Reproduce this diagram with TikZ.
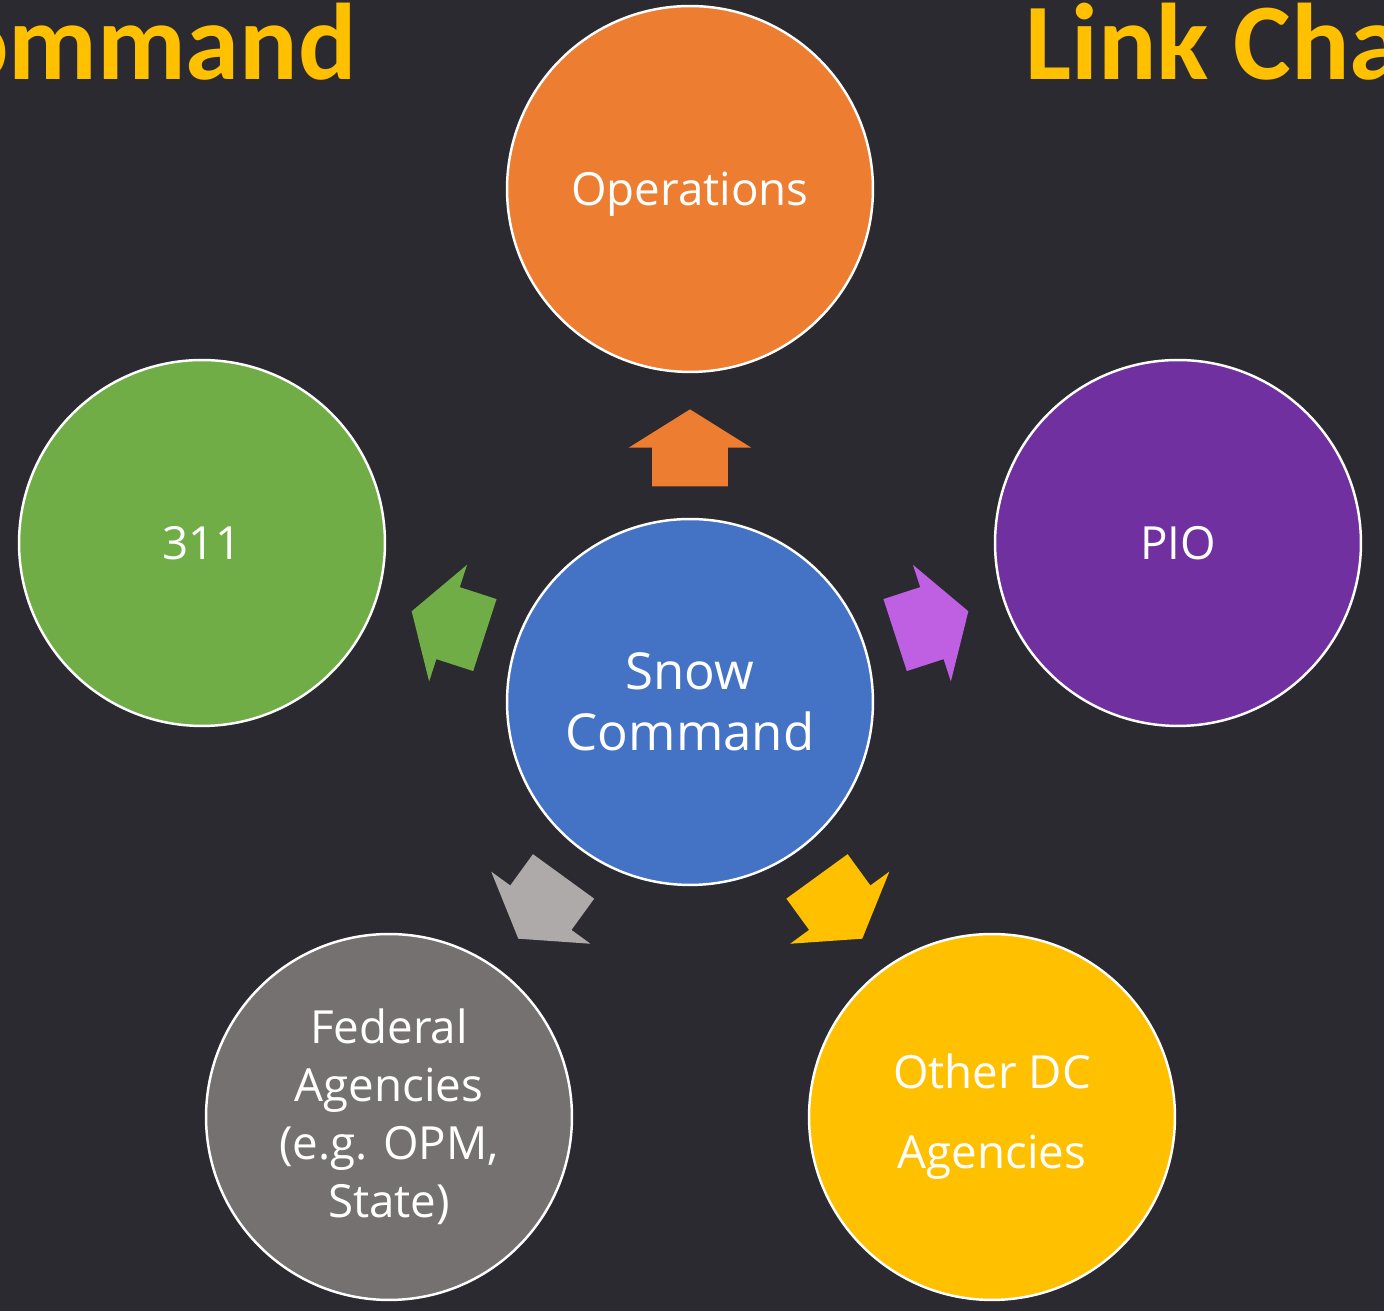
\documentclass[tikz,border=0pt]{standalone}
\usepackage{fontspec}
\setmainfont{Open Sans}
\newfontfamily\titlefont{Carlito}
\usetikzlibrary{shapes.arrows,calc}

\definecolor{slate}{HTML}{2B2A30}
\definecolor{gold}{HTML}{FFC000}
\definecolor{hubblue}{HTML}{4472C4}
\definecolor{opsorange}{HTML}{ED7D31}
\definecolor{piopurple}{HTML}{7030A0}
\definecolor{piolilac}{HTML}{BF60E2}
\definecolor{callgreen}{HTML}{70AD47}
\definecolor{fedgrey}{HTML}{767171}
\definecolor{fedsilver}{HTML}{AEAAAA}

\tikzset{
  bubble/.style={circle,draw=white,line width=1.4pt,minimum size=7.32cm,inner sep=0pt,
    text=white,align=center,font=\fontsize{26}{33}\selectfont},
  linkarrow/.style={single arrow,draw=none,inner xsep=0pt,inner ysep=0.75cm,minimum height=1.54cm,
    single arrow head extend=0.47cm,single arrow tip angle=116,anchor=tip},
  headline/.style={inner sep=0pt,text=gold,font=\titlefont\bfseries\fontsize{62}{70}\selectfont}
}

\begin{document}
\begin{tikzpicture}[x=0.02cm,y=0.02cm]
\useasboundingbox (0,0) rectangle (1384,1311);
\clip (0,0) rectangle (1384,1311);
\fill[slate] (0,0) rectangle (1384,1311);

% titles, cut by the page edge
\node[headline,anchor=base east] (lefttitle) at (357,1231) {ommand};
\node[headline,anchor=base west] (righttitle) at (1025,1231) {Link Cha};

% hub and the five links
\node[bubble,fill=hubblue,font=\fontsize{29}{35}\selectfont] (hub) at (690,609) {Snow\\Command};
\node[bubble,fill=opsorange,text depth=0pt] (ops) at (690,1122) {Operations};
\node[bubble,fill=piopurple] (pio) at (1178,768) {PIO};
\node[bubble,fill=callgreen] (call) at (202,768) {311};
\node[bubble,fill=fedgrey,font=\fontsize{26}{33}\selectfont] (fed) at (389,194) {Federal\\Agencies\\(e.g. OPM,\\State)};
\node[bubble,fill=gold,font=\fontsize{26}{45.5}\selectfont] (dc) at (992,194) {Other DC\\Agencies};

% block arrows
\node[linkarrow,fill=opsorange,rotate=90] (toops) at ($(hub)!0.5712!(ops)$) {};
\node[linkarrow,fill=piolilac,rotate=18] (topio) at ($(hub)!0.5712!(pio)$) {};
\node[linkarrow,fill=callgreen,rotate=162] (tocall) at ($(hub)!0.5712!(call)$) {};
\node[linkarrow,fill=fedsilver,rotate=234] (tofed) at ($(hub)!0.5712!(fed)$) {};
\node[linkarrow,fill=gold,rotate=-54] (todc) at ($(hub)!0.5712!(dc)$) {};
\end{tikzpicture}
\end{document}
